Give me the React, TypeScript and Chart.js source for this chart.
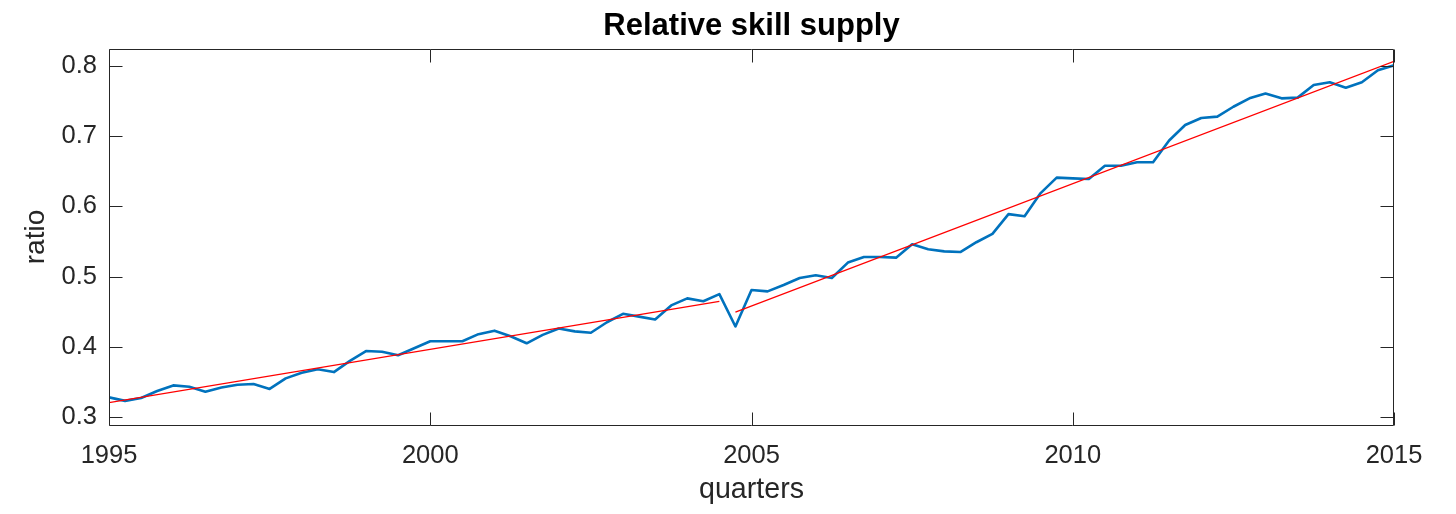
import React, { useEffect, useRef } from "react";
import { Chart, registerables } from "chart.js";

Chart.register(...registerables);

// Quarterly series, starting 1995 Q1 (one value per quarter, 1995.00 ... 2015.00)
const startYear = 1995;
const quarterStep = 0.25;
const skillSupply = [
  0.328, 0.323, 0.327, 0.337, 0.345, 0.343, 0.336, 0.342, 0.346, 0.347,
  0.340, 0.355, 0.363, 0.368, 0.364, 0.380, 0.394, 0.393, 0.388, 0.398,
  0.408, 0.408, 0.408, 0.418, 0.423, 0.415, 0.405, 0.417, 0.426, 0.422,
  0.420, 0.435, 0.447, 0.443, 0.439, 0.459, 0.469, 0.465, 0.475, 0.429,
  0.481, 0.479, 0.488, 0.498, 0.502, 0.498, 0.520, 0.528, 0.528, 0.527,
  0.546, 0.539, 0.536, 0.535, 0.549, 0.561, 0.589, 0.586, 0.619, 0.641,
  0.640, 0.639, 0.658, 0.658, 0.663, 0.663, 0.694, 0.716, 0.726, 0.728,
  0.742, 0.754, 0.761, 0.754, 0.755, 0.773, 0.777, 0.769, 0.777, 0.794,
  0.801,
];

// Linear trend fits (two segments, before / after the break)
const fitEarlyX = [1995, 2004.5];
const fitEarlyY = [0.3205, 0.4646];
const fitLateX = [2004.75, 2015];
const fitLateY = [0.4495, 0.8066];

const xTicks = [1995, 2000, 2005, 2010, 2015];
const yTicks = [0.3, 0.4, 0.5, 0.6, 0.7, 0.8];
const xMin = 1995;
const xMax = 2015;
const yMin = 0.2886;
const yMax = 0.8243;

const titleText = "Relative skill supply";
const xTitle = "quarters";
const yTitle = "ratio";

const FONT = '"Liberation Sans", Arial, Helvetica, sans-serif';
const AXIS_COLOR = "#262626";

const boxPlugin = {
  id: "matlabBox",
  afterDatasetsDraw(chart: any) {
    const { ctx, chartArea: a, scales } = chart;
    const tickLen = 13;
    ctx.save();
    ctx.strokeStyle = AXIS_COLOR;
    ctx.lineWidth = 1;
    const L = Math.round(a.left) + 0.5;
    const R = Math.round(a.right) - 0.5;
    const T = Math.round(a.top) + 0.5;
    const B = Math.round(a.bottom) + 0.5;
    ctx.beginPath();
    ctx.rect(L, T, R - L, B - T);
    ctx.stroke();
    ctx.beginPath();
    for (const t of scales.x.ticks) {
      const px = Math.round(scales.x.getPixelForValue(t.value)) + 0.5;
      ctx.moveTo(px, B);
      ctx.lineTo(px, B - tickLen);
      ctx.moveTo(px, T);
      ctx.lineTo(px, T + tickLen);
    }
    for (const t of scales.y.ticks) {
      const py = Math.round(scales.y.getPixelForValue(t.value)) + 0.5;
      ctx.moveTo(L, py);
      ctx.lineTo(L + tickLen, py);
      ctx.moveTo(R, py);
      ctx.lineTo(R - tickLen, py);
    }
    ctx.stroke();
    ctx.restore();
  },
};

export default function App() {
  const ref = useRef<HTMLCanvasElement>(null);

  useEffect(() => {
    const seriesPoints = skillSupply.map((v, i) => ({ x: startYear + i * quarterStep, y: v }));
    const early = fitEarlyX.map((x, i) => ({ x, y: fitEarlyY[i] }));
    const late = fitLateX.map((x, i) => ({ x, y: fitLateY[i] }));

    const chart = new Chart(ref.current as HTMLCanvasElement, {
      type: "line",
      data: {
        datasets: [
          {
            label: "fit1",
            data: early,
            borderColor: "#FF0000",
            borderWidth: 1.3,
            pointRadius: 0,
            tension: 0,
          },
          {
            label: "fit2",
            data: late,
            borderColor: "#FF0000",
            borderWidth: 1.3,
            pointRadius: 0,
            tension: 0,
          },
          {
            label: "ratio",
            data: seriesPoints,
            borderColor: "#0072BD",
            borderWidth: 2.6,
            pointRadius: 0,
            tension: 0,
            borderJoinStyle: "round",
          },
        ],
      },
      options: {
        responsive: false,
        animation: false,
        devicePixelRatio: 1,
        layout: { padding: { left: 0, right: 62, top: 0, bottom: 0 } },
        plugins: {
          legend: { display: false },
          tooltip: { enabled: false },
          title: {
            display: true,
            text: titleText,
            fullSize: false,
            color: "#000000",
            font: { family: FONT, size: 31, weight: "bold", lineHeight: 1.2 },
            padding: { top: 7.5, bottom: 4.3 },
          },
        },
        scales: {
          x: {
            type: "linear",
            min: xMin,
            max: xMax,
            grid: { display: false, drawTicks: false },
            border: { display: false },
            afterBuildTicks: (scale: any) => {
              scale.ticks = xTicks.map((v) => ({ value: v }));
            },
            afterFit: (scale: any) => {
              scale.height = 89;
            },
            ticks: {
              autoSkip: false,
              maxRotation: 0,
              minRotation: 0,
              padding: 16,
              color: AXIS_COLOR,
              font: { family: FONT, size: 25.5 },
              callback: (v: any) => String(v),
            },
            title: {
              display: true,
              text: xTitle,
              color: AXIS_COLOR,
              font: { family: FONT, size: 28.6, lineHeight: 1.2 },
              padding: { top: 0, bottom: 7 },
            },
          },
          y: {
            type: "linear",
            min: yMin,
            max: yMax,
            grid: { display: false, drawTicks: false },
            border: { display: false },
            afterBuildTicks: (scale: any) => {
              scale.ticks = yTicks.map((v) => ({ value: v }));
            },
            afterFit: (scale: any) => {
              scale.width = 109;
            },
            ticks: {
              autoSkip: false,
              padding: 12,
              color: AXIS_COLOR,
              font: { family: FONT, size: 25.5 },
              callback: (v: any) => Number(v).toFixed(1),
            },
            title: {
              display: true,
              text: yTitle,
              color: AXIS_COLOR,
              font: { family: FONT, size: 28, lineHeight: 1.2 },
              padding: { top: 19, bottom: 0 },
            },
          },
        },
      },
      plugins: [boxPlugin],
    });
    return () => chart.destroy();
  }, []);

  return (
    <div style={{ position: "absolute", left: 0, top: 0, width: 1456, height: 514, background: "#ffffff" }}>
      <canvas ref={ref} width={1456} height={514} style={{ display: "block", width: 1456, height: 514 }} />
    </div>
  );
}
